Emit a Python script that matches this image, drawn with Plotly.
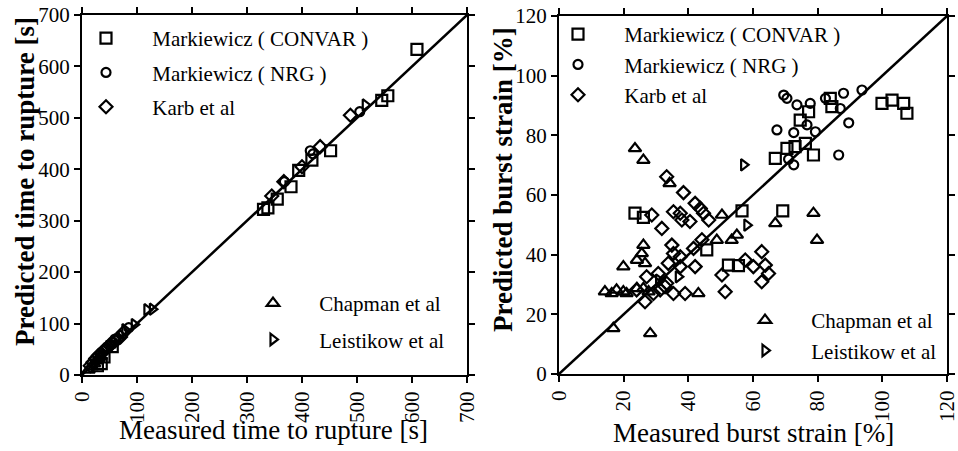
import plotly.graph_objects as go

# ---------------- Left panel: time to rupture [s] ----------------
L_convar_x = [28, 35, 40, 55, 330, 338, 355, 380, 394, 418, 452, 545, 556, 609]
L_convar_y = [18, 22, 35, 55, 322, 325, 342, 366, 398, 418, 436, 534, 543, 633]
L_nrg_x = [45, 60, 85, 368, 415, 420, 505]
L_nrg_y = [52, 70, 92, 376, 436, 430, 512]
L_karb_x = [15, 20, 25, 30, 35, 40, 45, 50, 55, 60, 65, 70, 75, 345, 367, 400, 433, 488]
L_karb_y = [18, 25, 32, 38, 42, 48, 52, 58, 62, 66, 70, 74, 82, 348, 376, 405, 444, 505]
L_chap_x = [12, 18, 22, 26, 30, 34]
L_chap_y = [10, 16, 22, 28, 32, 36]
L_leis_x = [78, 95, 118, 128, 515]
L_leis_y = [88, 98, 127, 128, 525]

# ---------------- Right panel: burst strain [%] ----------------
R_convar_x = [23.5, 26.1, 56.6, 69.2, 52.4, 55.5, 45.7, 66.9, 78.7, 70.5, 73.0, 76.2,
              74.6, 77.2, 83.9, 84.4, 99.9, 103.0, 106.6, 107.6]
R_convar_y = [53.9, 52.5, 54.7, 54.7, 36.5, 36.3, 41.6, 72.3, 73.4, 75.6, 76.2, 77.3,
              85.1, 87.9, 92.4, 89.6, 90.7, 91.8, 90.7, 87.4]
R_nrg_x = [69.5, 70.5, 73.6, 77.7, 67.4, 72.6, 76.7, 79.3, 72.6, 82.4, 88.0, 93.7, 89.6, 86.5, 87.0, 71.0]
R_nrg_y = [93.5, 92.4, 90.2, 90.7, 81.8, 80.9, 83.5, 81.2, 70.1, 92.4, 94.1, 95.2, 84.2, 73.4, 89.0, 72.0]
R_karb_x = [33.3, 38.5, 28.7, 31.8, 35.4, 37.5, 38.0, 40.5, 42.1, 43.7, 44.7, 46.3, 34.9, 35.4,
            37.5, 33.8, 37.5, 41.6, 42.1, 44.2, 35.4, 39.0, 26.6, 29.2, 31.3, 27.1, 30.7, 32.8,
            50.4, 51.4, 57.6, 60.1, 62.7, 62.7, 63.8, 64.8, 33.3, 24.0]
R_karb_y = [66.1, 60.8, 53.3, 48.8, 54.4, 53.9, 51.6, 51.1, 57.2, 55.5, 53.9, 51.6, 43.2, 40.4,
            39.3, 37.1, 36.0, 42.1, 36.0, 45.0, 27.0, 27.0, 24.2, 27.0, 28.2, 32.6, 33.7, 29.3,
            33.2, 27.6, 38.2, 36.0, 41.0, 30.9, 36.5, 33.7, 30.4, 28.2]
R_chap_x = [23.5, 26.1, 34.2, 50.4, 66.9, 78.7, 79.8, 48.8, 53.4, 55.0, 26.1, 25.6, 24.1, 26.6,
            19.9, 24.1, 14.2, 16.3, 17.8, 19.9, 20.9, 16.8, 28.2, 43.1, 27.7, 26.1]
R_chap_y = [75.6, 71.7, 63.9, 53.3, 50.5, 53.9, 44.9, 44.9, 44.9, 46.6, 43.2, 40.4, 38.2, 37.1,
            36.0, 28.7, 27.6, 27.0, 28.2, 27.6, 27.0, 15.3, 13.6, 27.0, 27.6, 28.7]
R_leis_x = [57.1, 58.1, 36.9, 30.8]
R_leis_y = [70.1, 49.9, 32.6, 31.5]

names = ["Markiewicz ( CONVAR )", "Markiewicz ( NRG )", "Karb et al", "Chapman et al", "Leistikow et al"]
symbols = ["square-open", "circle-open", "diamond-open", "triangle-up-open", "triangle-right-open"]
sizes = [11, 9, 10, 11, 10]

FONT = "Liberation Serif, Tinos, Times New Roman, DejaVu Serif, serif"
pad = "\u00a0" * 5

W, H = 958, 451


def px(x):
    return x / W


def py(y):
    return 1 - y / H


fig = go.Figure()

left_data = [(L_convar_x, L_convar_y), (L_nrg_x, L_nrg_y), (L_karb_x, L_karb_y),
             (L_chap_x, L_chap_y), (L_leis_x, L_leis_y)]
right_data = [(R_convar_x, R_convar_y), (R_nrg_x, R_nrg_y), (R_karb_x, R_karb_y),
              (R_chap_x, R_chap_y), (R_leis_x, R_leis_y)]

# diagonal lines
fig.add_trace(go.Scatter(x=[0, 700], y=[0, 700], mode="lines", line=dict(color="black", width=2.5),
                         showlegend=False, xaxis="x", yaxis="y", hoverinfo="skip"))
fig.add_trace(go.Scatter(x=[0, 120], y=[0, 120], mode="lines", line=dict(color="black", width=2.5),
                         showlegend=False, xaxis="x2", yaxis="y2", hoverinfo="skip"))

for i, (dx, dy) in enumerate(left_data):
    fig.add_trace(go.Scatter(x=dx, y=dy, mode="markers", name=pad + names[i],
                             marker=dict(symbol=symbols[i], size=sizes[i], color="black",
                                         line=dict(width=2.2, color="black")),
                             legend="legend" if i < 3 else "legend2", legendgroup="L%d" % i,
                             xaxis="x", yaxis="y"))
for i, (dx, dy) in enumerate(right_data):
    fig.add_trace(go.Scatter(x=dx, y=dy, mode="markers", name=pad + names[i],
                             marker=dict(symbol=symbols[i], size=sizes[i], color="black",
                                         line=dict(width=2.2, color="black")),
                             legend="legend3" if i < 3 else "legend4", legendgroup="R%d" % i,
                             xaxis="x2", yaxis="y2"))

axis_common = dict(showline=True, linecolor="black", linewidth=2, mirror="ticks",
                   ticks="outside", ticklen=6, tickwidth=1.5, tickcolor="black",
                   showgrid=False, zeroline=False, automargin=False,
                   ticklabeloverflow="allow",
                   tickfont=dict(family=FONT, size=21, color="black"))

legend_common = dict(bgcolor="rgba(0,0,0,0)", borderwidth=0, traceorder="grouped",
                     font=dict(family=FONT, size=21, color="black"),
                     xanchor="left", yanchor="top", itemsizing="trace")

fig.update_layout(
    width=W, height=H, autosize=False,
    margin=dict(l=0, r=0, t=0, b=0, autoexpand=False),
    font=dict(family=FONT, color="black"),
    paper_bgcolor="white", plot_bgcolor="white",
    xaxis=dict(domain=[px(82), px(467)], range=[0, 700], dtick=100, tickangle=-90, anchor="y", **axis_common),
    yaxis=dict(domain=[py(375), py(15)], range=[0, 700], dtick=100, anchor="x", **axis_common),
    xaxis2=dict(domain=[px(559), px(947)], range=[0, 120], dtick=20, tickangle=-90, anchor="y2", **axis_common),
    yaxis2=dict(domain=[py(374), py(16)], range=[0, 120], dtick=20, anchor="x2", **axis_common),
    legend=dict(x=px(86), y=py(18), tracegroupgap=4, **legend_common),
    legend2=dict(x=px(253), y=py(283), tracegroupgap=6, **legend_common),
    legend3=dict(x=px(558), y=py(14), tracegroupgap=0, **legend_common),
    legend4=dict(x=px(745), y=py(300), tracegroupgap=0, **legend_common),
    annotations=[
        dict(text="Measured time to rupture [s]", x=px(273), y=py(430), xref="paper", yref="paper",
             xanchor="center", yanchor="middle",
             showarrow=False, font=dict(family=FONT, size=27, color="black")),
        dict(text="Measured burst strain [%]", x=px(753), y=py(433), xref="paper", yref="paper",
             xanchor="center", yanchor="middle",
             showarrow=False, font=dict(family=FONT, size=27, color="black")),
        dict(text="<b>Predicted time to rupture [s]</b>", x=px(25), y=py(182), xref="paper", yref="paper",
             xanchor="center", yanchor="middle",
             showarrow=False, textangle=-90, font=dict(family=FONT, size=27, color="black")),
        dict(text="<b>Predicted burst strain [%]</b>", x=px(503), y=py(180), xref="paper", yref="paper",
             xanchor="center", yanchor="middle",
             showarrow=False, textangle=-90, font=dict(family=FONT, size=27, color="black")),
    ],
)

# remove the default 8 px body margin so the figure fills the window exactly
fig.write_html("out.html", config={"displayModeBar": False},
               post_script="document.body.style.margin='0';document.body.style.overflow='hidden';")
